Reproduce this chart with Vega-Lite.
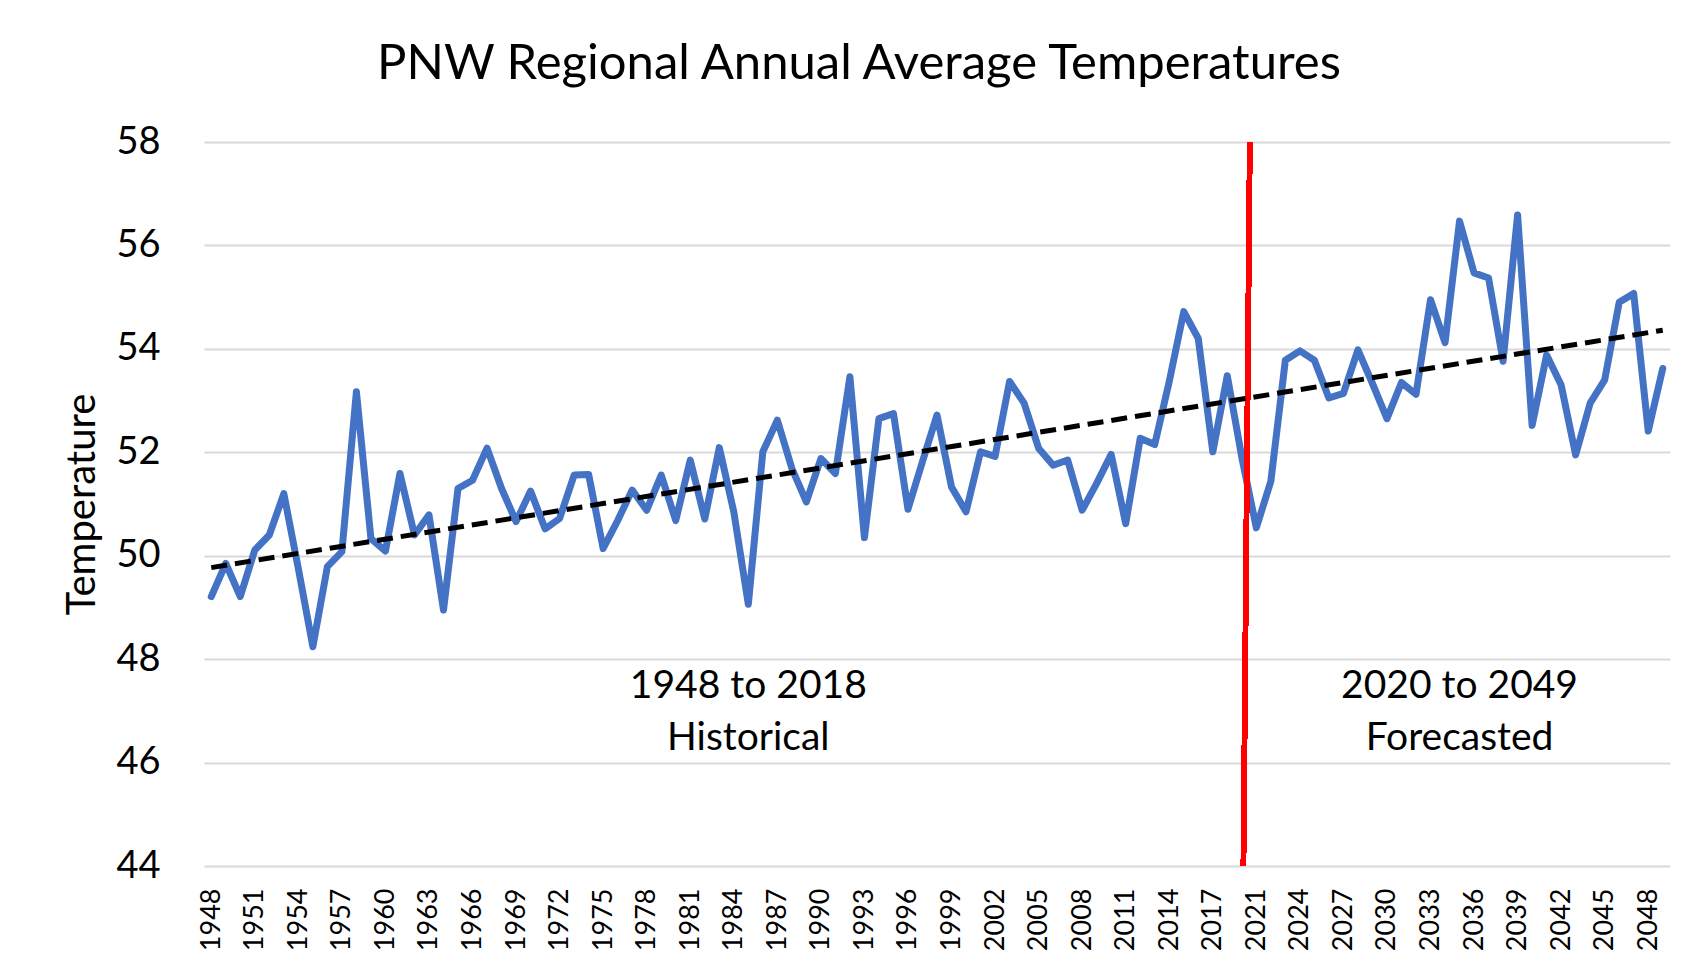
{
  "$schema": "https://vega.github.io/schema/vega-lite/v6.json",
  "autosize": {"type": "none"},
  "padding": {"left": 204, "top": 142, "right": 21, "bottom": 104},
  "width": 1466,
  "height": 724,
  "background": "white",
  "title": {
    "text": "PNW Regional Annual Average Temperatures",
    "font": "Lato",
    "fontSize": 49,
    "fontWeight": "normal",
    "color": "#000000",
    "anchor": "middle",
    "frame": "group",
    "dx": -78,
    "offset": -5,
    "baseline": "alphabetic"
  },
  "config": {
    "view": {"stroke": null},
    "font": "Lato"
  },
  "data": {
    "values": [
      {"year": 1948, "temp": 49.21}, {"year": 1949, "temp": 49.85}, {"year": 1950, "temp": 49.21},
      {"year": 1951, "temp": 50.11}, {"year": 1952, "temp": 50.40}, {"year": 1953, "temp": 51.2},
      {"year": 1954, "temp": 49.75}, {"year": 1955, "temp": 48.24}, {"year": 1956, "temp": 49.79},
      {"year": 1957, "temp": 50.08}, {"year": 1958, "temp": 53.17}, {"year": 1959, "temp": 50.33},
      {"year": 1960, "temp": 50.09}, {"year": 1961, "temp": 51.59}, {"year": 1962, "temp": 50.40},
      {"year": 1963, "temp": 50.79}, {"year": 1964, "temp": 48.95}, {"year": 1965, "temp": 51.30},
      {"year": 1966, "temp": 51.46}, {"year": 1967, "temp": 52.08}, {"year": 1968, "temp": 51.3},
      {"year": 1969, "temp": 50.66}, {"year": 1970, "temp": 51.25}, {"year": 1971, "temp": 50.52},
      {"year": 1972, "temp": 50.72}, {"year": 1973, "temp": 51.56}, {"year": 1974, "temp": 51.57},
      {"year": 1975, "temp": 50.14}, {"year": 1976, "temp": 50.68}, {"year": 1977, "temp": 51.27},
      {"year": 1978, "temp": 50.88}, {"year": 1979, "temp": 51.56}, {"year": 1980, "temp": 50.68},
      {"year": 1981, "temp": 51.85}, {"year": 1982, "temp": 50.71}, {"year": 1983, "temp": 52.09},
      {"year": 1984, "temp": 50.85}, {"year": 1985, "temp": 49.06}, {"year": 1986, "temp": 52.01},
      {"year": 1987, "temp": 52.62}, {"year": 1988, "temp": 51.69}, {"year": 1989, "temp": 51.04},
      {"year": 1990, "temp": 51.88}, {"year": 1991, "temp": 51.59}, {"year": 1992, "temp": 53.46},
      {"year": 1993, "temp": 50.35}, {"year": 1994, "temp": 52.65}, {"year": 1995, "temp": 52.75},
      {"year": 1996, "temp": 50.9}, {"year": 1997, "temp": 51.82}, {"year": 1998, "temp": 52.72},
      {"year": 1999, "temp": 51.33}, {"year": 2000, "temp": 50.85}, {"year": 2001, "temp": 52.01},
      {"year": 2002, "temp": 51.92}, {"year": 2003, "temp": 53.37}, {"year": 2004, "temp": 52.95},
      {"year": 2005, "temp": 52.08}, {"year": 2006, "temp": 51.75}, {"year": 2007, "temp": 51.85},
      {"year": 2008, "temp": 50.88}, {"year": 2009, "temp": 51.4}, {"year": 2010, "temp": 51.96},
      {"year": 2011, "temp": 50.62}, {"year": 2012, "temp": 52.27}, {"year": 2013, "temp": 52.15},
      {"year": 2014, "temp": 53.37}, {"year": 2015, "temp": 54.72}, {"year": 2016, "temp": 54.2},
      {"year": 2017, "temp": 52.01}, {"year": 2018, "temp": 53.48},
      {"year": 2020, "temp": 51.9}, {"year": 2021, "temp": 50.54}, {"year": 2022, "temp": 51.44},
      {"year": 2023, "temp": 53.78}, {"year": 2024, "temp": 53.96}, {"year": 2025, "temp": 53.78},
      {"year": 2026, "temp": 53.05}, {"year": 2027, "temp": 53.14}, {"year": 2028, "temp": 53.98},
      {"year": 2029, "temp": 53.33}, {"year": 2030, "temp": 52.65}, {"year": 2031, "temp": 53.35},
      {"year": 2032, "temp": 53.12}, {"year": 2033, "temp": 54.95}, {"year": 2034, "temp": 54.12},
      {"year": 2035, "temp": 56.47}, {"year": 2036, "temp": 55.47}, {"year": 2037, "temp": 55.37},
      {"year": 2038, "temp": 53.76}, {"year": 2039, "temp": 56.59}, {"year": 2040, "temp": 52.52},
      {"year": 2041, "temp": 53.88}, {"year": 2042, "temp": 53.3}, {"year": 2043, "temp": 51.95},
      {"year": 2044, "temp": 52.95}, {"year": 2045, "temp": 53.4}, {"year": 2046, "temp": 54.9},
      {"year": 2047, "temp": 55.07}, {"year": 2048, "temp": 52.41}, {"year": 2049, "temp": 53.62}
    ]
  },
  "encoding": {
    "x": {
      "field": "year",
      "type": "ordinal",
      "sort": "ascending",
      "scale": {"type": "point", "padding": 0.5},
      "axis": {
        "title": null,
        "values": [1948,1951,1954,1957,1960,1963,1966,1969,1972,1975,1978,1981,1984,1987,1990,1993,1996,1999,2002,2005,2008,2011,2014,2017,2021,2024,2027,2030,2033,2036,2039,2042,2045,2048],
        "labelAngle": -90,
        "labelAlign": "right",
        "labelBaseline": "middle",
        "labelFont": "Lato",
        "labelFontSize": 27,
        "labelColor": "#000000",
        "labelPadding": 22,
        "labelOverlap": false,
        "domain": false,
        "ticks": false,
        "tickSize": 0,
        "grid": false
      }
    },
    "y": {
      "field": "temp",
      "type": "quantitative",
      "scale": {"domain": [44, 58], "nice": false, "zero": false},
      "axis": {
        "values": [44, 46, 48, 50, 52, 54, 56, 58],
        "title": "Temperature",
        "titleFont": "Lato",
        "titleFontSize": 40,
        "titleFontWeight": "normal",
        "titleColor": "#000000",
        "titleAngle": -90,
        "titleAlign": "center",
        "titleBaseline": "alphabetic",
        "titleX": -110,
        "titleY": 362,
        "labelFont": "Lato",
        "labelFontSize": 38,
        "labelColor": "#000000",
        "labelPadding": 44,
        "domain": false,
        "ticks": false,
        "tickSize": 0,
        "grid": true,
        "gridColor": "#d9d9d9",
        "gridWidth": 2
      }
    }
  },
  "layer": [
    {
      "mark": {"type": "line", "color": "#4472C4", "strokeWidth": 7, "strokeJoin": "round", "strokeCap": "round"}
    },
    {
      "mark": {"type": "rule", "color": "#FF0000", "strokeWidth": 5, "xOffset": 8, "x2Offset": 1.6},
      "encoding": {
        "x": {"datum": 2020, "type": "ordinal"},
        "x2": {"datum": 2020},
        "y": {"datum": 58, "type": "quantitative"},
        "y2": {"datum": 44}
      }
    },
    {
      "data": {"values": [{"year": 1948, "trend": 49.77}, {"year": 2049, "trend": 54.36}]},
      "mark": {"type": "line", "color": "#000000", "strokeWidth": 5, "strokeDash": [16, 8]},
      "encoding": {
        "y": {"field": "trend", "type": "quantitative"}
      }
    },
    {
      "data": {"values": [
        {"year": 1985, "temp": 47.25, "label": "1948 to 2018"},
        {"year": 1985, "temp": 46.25, "label": "Historical"},
        {"year": 2035, "temp": 47.25, "label": "2020 to 2049"},
        {"year": 2035, "temp": 46.25, "label": "Forecasted"}
      ]},
      "mark": {"type": "text", "font": "Lato", "fontSize": 39, "color": "#000000", "align": "center", "baseline": "alphabetic"},
      "encoding": {
        "text": {"field": "label"}
      }
    }
  ]
}
